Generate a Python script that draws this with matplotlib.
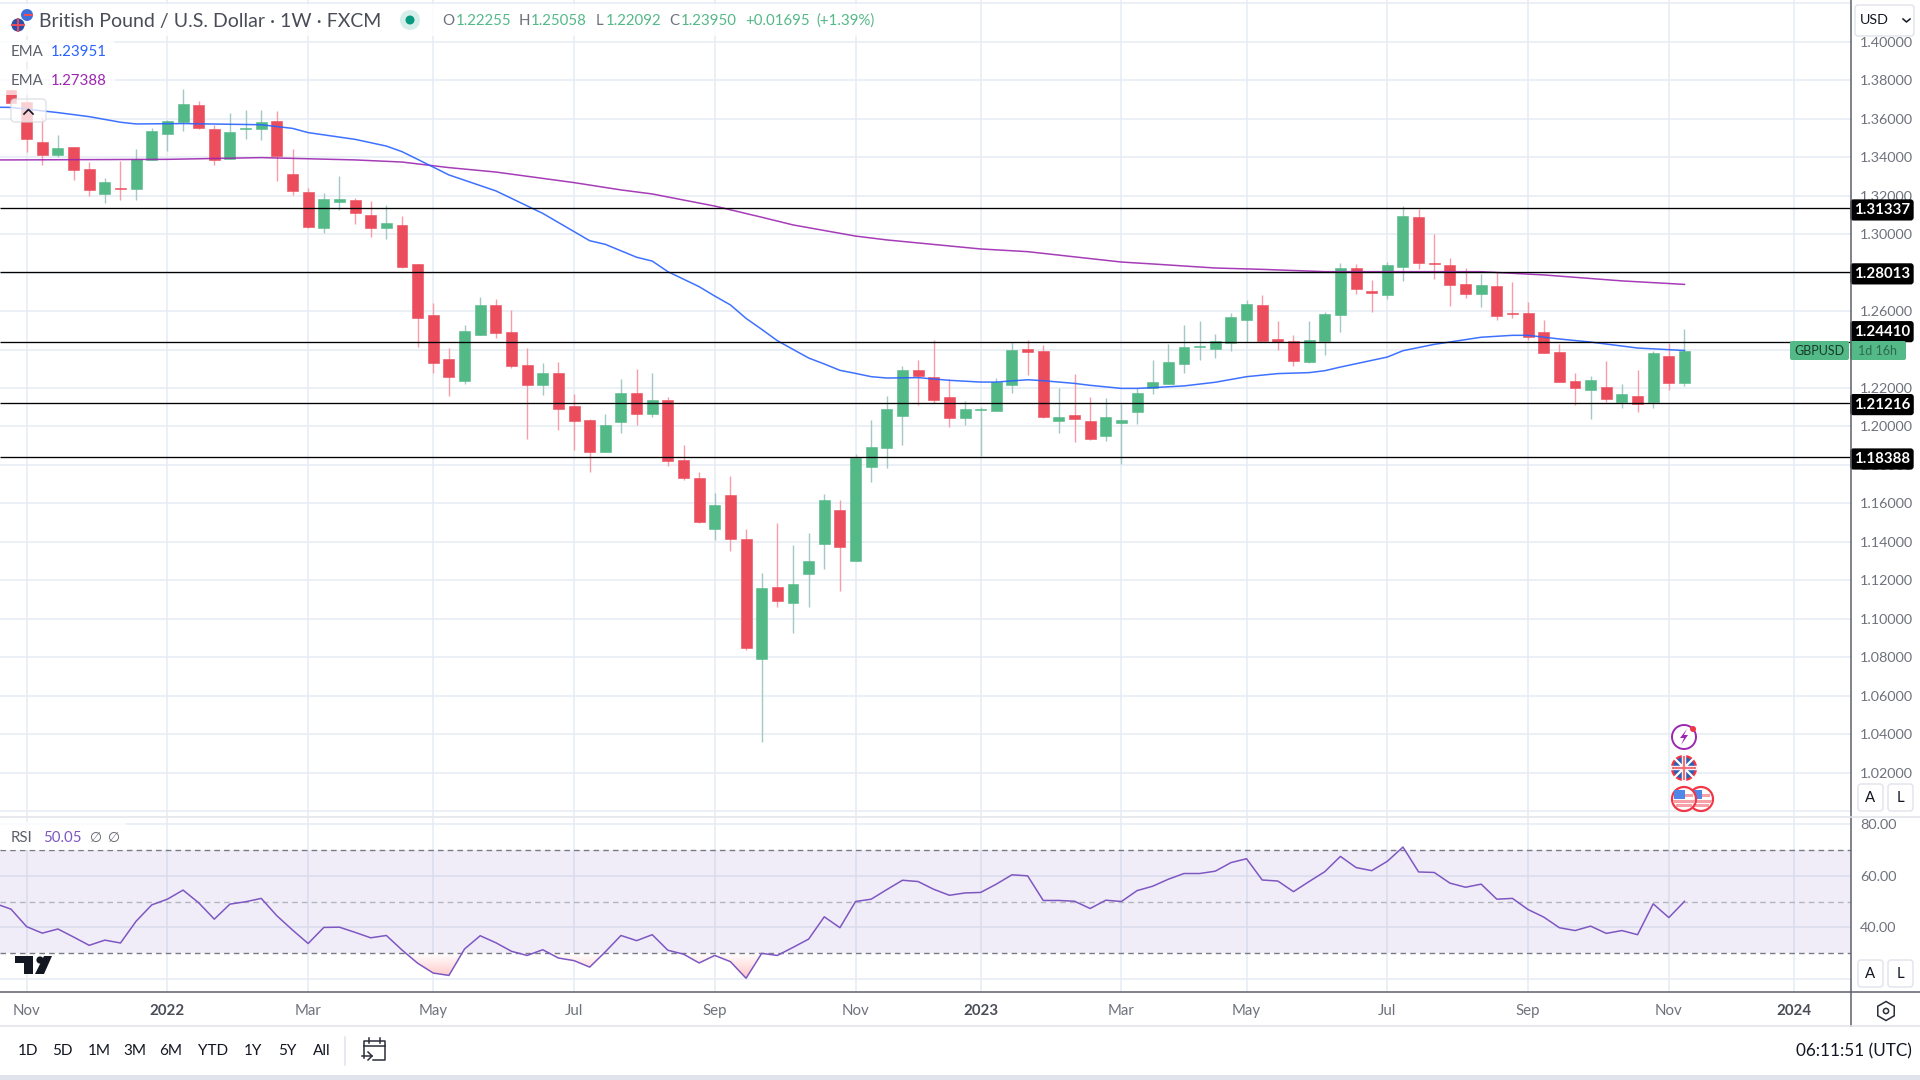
import matplotlib
matplotlib.use("Agg")
import matplotlib.pyplot as plt
import numpy as np
from matplotlib.colors import LinearSegmentedColormap
from matplotlib.patches import Circle, FancyBboxPatch, Polygon, Rectangle, RegularPolygon
from matplotlib.path import Path

plt.rcParams['font.family'] = ['Lato', 'DejaVu Sans']

# weekly candles, one entry per bar
opens = [1.3750, 1.3687, 1.3479, 1.3412, 1.3453, 1.3339, 1.3209, 1.3240, 1.3235, 1.3386,
         1.3521, 1.3583, 1.3672, 1.3547, 1.3391, 1.3549, 1.3547, 1.3588, 1.3313, 1.3219,
         1.3032, 1.3167, 1.3178, 1.3100, 1.3032, 1.3048, 1.2845, 1.2580, 1.2351, 1.2237,
         1.2476, 1.2632, 1.2491, 1.2320, 1.2216, 1.2278, 1.2107, 1.2034, 1.1867, 1.2023,
         1.2174, 1.2065, 1.2138, 1.1826, 1.1732, 1.1467, 1.1644, 1.1415, 1.0791, 1.1166,
         1.1082, 1.1233, 1.1389, 1.1566, 1.1301, 1.1789, 1.1888, 1.2055, 1.2294, 1.2257,
         1.2153, 1.2044, 1.2087, 1.2081, 1.2216, 1.2403, 1.2393, 1.2029, 1.2060, 1.2029,
         1.1951, 1.2018, 1.2075, 1.2200, 1.2221, 1.2325, 1.2415, 1.2403, 1.2434, 1.2554,
         1.2632, 1.2455, 1.2445, 1.2335, 1.2445, 1.2580, 1.2824, 1.2705, 1.2684, 1.2829,
         1.3089, 1.2850, 1.2840, 1.2741, 1.2689, 1.2730, 1.2590, 1.2590, 1.2491, 1.2387,
         1.2236, 1.2190, 1.2205, 1.2127, 1.2159, 1.2127, 1.2366, 1.22255]
highs = [1.3755, 1.3695, 1.3607, 1.3516, 1.3455, 1.3375, 1.3292, 1.3382, 1.3443, 1.3552,
         1.3594, 1.3755, 1.3692, 1.3568, 1.3630, 1.3646, 1.3646, 1.3640, 1.3443, 1.3240,
         1.3214, 1.3302, 1.3188, 1.3172, 1.3152, 1.3094, 1.2845, 1.2642, 1.2408, 1.2528,
         1.2673, 1.2663, 1.2606, 1.2408, 1.2330, 1.2335, 1.2169, 1.2039, 1.2065, 1.2247,
         1.2299, 1.2278, 1.2153, 1.1904, 1.1763, 1.1654, 1.1743, 1.1467, 1.1238, 1.1498,
         1.1384, 1.1446, 1.1649, 1.1618, 1.1857, 1.2034, 1.2159, 1.2315, 1.2346, 1.2450,
         1.2247, 1.2133, 1.2100, 1.2252, 1.2439, 1.2450, 1.2424, 1.2200, 1.2273, 1.2153,
         1.2148, 1.2117, 1.2200, 1.2346, 1.2429, 1.2528, 1.2549, 1.2481, 1.2590, 1.2658,
         1.2684, 1.2549, 1.2476, 1.2549, 1.2595, 1.2850, 1.2845, 1.2762, 1.2855, 1.3146,
         1.3131, 1.3001, 1.2876, 1.2824, 1.2793, 1.2803, 1.2751, 1.2647, 1.2554, 1.2429,
         1.2278, 1.2262, 1.2341, 1.2221, 1.2294, 1.2393, 1.2434, 1.25058]
lows = [1.3684, 1.3429, 1.3361, 1.3403, 1.3282, 1.3198, 1.3162, 1.3178, 1.3178, 1.3384,
        1.3432, 1.3536, 1.3547, 1.3360, 1.3389, 1.3495, 1.3490, 1.3276, 1.3204, 1.3032,
        1.3006, 1.3126, 1.3053, 1.2985, 1.2975, 1.2824, 1.2413, 1.2278, 1.2159, 1.2221,
        1.2476, 1.2460, 1.2304, 1.1935, 1.2164, 1.1982, 1.1878, 1.1763, 1.1867, 1.1966,
        1.2008, 1.2049, 1.1795, 1.1722, 1.1498, 1.1410, 1.1353, 1.0838, 1.0360, 1.1062,
        1.0926, 1.1062, 1.1259, 1.1145, 1.1299, 1.1711, 1.1784, 1.1904, 1.2112, 1.2122,
        1.1999, 1.2008, 1.1847, 1.2079, 1.2174, 1.2268, 1.2044, 1.1966, 1.1919, 1.1930,
        1.1925, 1.1805, 1.2013, 1.2169, 1.2221, 1.2278, 1.2346, 1.2356, 1.2393, 1.2439,
        1.2445, 1.2398, 1.2315, 1.2330, 1.2372, 1.2491, 1.2689, 1.2595, 1.2663, 1.2757,
        1.2819, 1.2767, 1.2626, 1.2668, 1.2621, 1.2554, 1.2564, 1.2450, 1.2380, 1.2229,
        1.2112, 1.2039, 1.2127, 1.2096, 1.2075, 1.2096, 1.2190, 1.22092]
closes = [1.3684, 1.3497, 1.3412, 1.3448, 1.3334, 1.3230, 1.3271, 1.3237, 1.3389, 1.3536,
          1.3588, 1.3677, 1.3552, 1.3386, 1.3531, 1.3552, 1.3583, 1.3406, 1.3224, 1.3037,
          1.3183, 1.3183, 1.3110, 1.3032, 1.3058, 1.2829, 1.2564, 1.2330, 1.2257, 1.2497,
          1.2632, 1.2486, 1.2315, 1.2216, 1.2278, 1.2091, 1.2029, 1.1867, 1.2008, 1.2174,
          1.2065, 1.2138, 1.1821, 1.1732, 1.1503, 1.1592, 1.1415, 1.0848, 1.1160, 1.1093,
          1.1181, 1.1301, 1.1618, 1.1374, 1.1836, 1.1893, 1.2091, 1.2294, 1.2263, 1.2138,
          1.2044, 1.2091, 1.2091, 1.2231, 1.2398, 1.2387, 1.2049, 1.2049, 1.2039, 1.1935,
          1.2049, 1.2034, 1.2174, 1.2231, 1.2335, 1.2413, 1.2418, 1.2445, 1.2569, 1.2637,
          1.2445, 1.2439, 1.2341, 1.2450, 1.2585, 1.2824, 1.2715, 1.2694, 1.2840, 1.3094,
          1.2850, 1.2845, 1.2736, 1.2689, 1.2736, 1.2574, 1.2585, 1.2465, 1.2382, 1.2231,
          1.2200, 1.2242, 1.2143, 1.2169, 1.2117, 1.2382, 1.2226, 1.2395]

# EMA lines, read at the bars where they bend
ema50_bars = [-1, 0, 3, 5, 7, 8, 11, 16, 18, 19, 22, 24, 25, 26, 28, 31, 34, 37, 38, 40, 41, 42, 44, 45,
              46, 47, 48, 49, 50, 51, 52, 53, 54, 55, 56, 58, 60, 62, 63, 65, 66, 68, 69, 71, 72,
              73, 75, 77, 79, 81, 83, 84, 85, 88, 89, 91, 94, 96, 97, 99, 101, 104, 107]
ema50 = [1.3660, 1.3659, 1.3632, 1.3611, 1.3582, 1.3573, 1.3575, 1.3569, 1.3550, 1.3528, 1.3493, 1.3458,
         1.3429, 1.3389, 1.3308, 1.3225, 1.3108, 1.2966, 1.2947, 1.2880, 1.2860, 1.2805, 1.2727, 1.2678,
         1.2632, 1.2562, 1.2505, 1.2446, 1.2401, 1.2356, 1.2325, 1.2292, 1.2276, 1.2259, 1.2252, 1.2254,
         1.2240, 1.2231, 1.2231, 1.2243, 1.2238, 1.2224, 1.2214, 1.2198, 1.2198, 1.2202, 1.2211, 1.2230,
         1.2259, 1.2275, 1.2280, 1.2290, 1.2309, 1.2361, 1.2394, 1.2427, 1.2464, 1.2474, 1.2474, 1.2455,
         1.2439, 1.2408, 1.23951]
ema200_bars = [-1, 0, 10, 16, 22, 25, 28, 31, 36, 39, 41, 45, 48, 50, 54, 56, 62, 65, 71, 73,
               77, 80, 84, 88, 94, 98, 103, 107]
ema200 = [1.3386, 1.3386, 1.3389, 1.3398, 1.3386, 1.3375, 1.3346, 1.3323, 1.3268, 1.3230, 1.3209,
          1.3146, 1.3088, 1.3048, 1.2990, 1.2970, 1.2923, 1.2909, 1.2855, 1.2845, 1.2824, 1.2817,
          1.2805, 1.2805, 1.2805, 1.2788, 1.2757, 1.27388]

# RSI, first entry sits one bar left of the first candle
rsi = [49.2, 47.05, 40.3, 37.8, 39.4, 36.3, 33.1, 35.1, 34.0, 42.4, 48.7, 50.9, 54.4, 49.5, 43.2, 49.0,
       49.9, 51.2, 44.5, 39.0, 33.8, 40.0, 40.1, 38.1, 36.0, 36.9, 31.3, 26.2, 22.4, 21.5, 31.7, 36.8,
       34.1, 30.8, 29.2, 31.4, 28.2, 27.2, 24.7, 30.6, 36.9, 34.9, 37.2, 31.2, 29.7, 26.3, 29.2, 26.8,
       20.4, 30.0, 29.2, 32.3, 35.5, 44.1, 39.9, 50.0, 50.9, 54.6, 58.2, 57.7, 54.7, 52.4, 53.3, 53.5,
       56.7, 60.3, 59.9, 50.4, 50.4, 50.1, 47.3, 50.5, 50.0, 54.2, 55.9, 58.6, 60.8, 60.8, 61.7, 65.0,
       66.5, 58.3, 57.9, 53.8, 57.7, 61.5, 67.4, 63.1, 61.9, 65.5, 71.0, 61.4, 61.2, 57.1, 55.5, 56.7,
       50.9, 51.2, 46.9, 44.0, 39.9, 38.8, 40.5, 37.7, 38.8, 37.2, 49.1, 43.8, 50.05]

levels = [1.31337, 1.28013, 1.24410, 1.21216, 1.18388]
month_bars = [1, 10, 19, 27, 36, 45, 54, 62, 71, 79, 88, 97, 106, 114]
month_labels = ['Nov', '2022', 'Mar', 'May', 'Jul', 'Sep', 'Nov', '2023', 'Mar', 'May', 'Jul', 'Sep', 'Nov', '2024']
price_ticks = [1.00, 1.02, 1.04, 1.06, 1.08, 1.10, 1.12, 1.14, 1.16, 1.18, 1.20, 1.22, 1.24, 1.26,
               1.28, 1.30, 1.32, 1.34, 1.36, 1.38, 1.40, 1.42]
hidden_ticks = (1.00, 1.24, 1.28, 1.42)  # gridline only, the label is covered in the reference
rsi_ticks = [20, 40, 60, 80]
ranges = ['1D', '5D', '1M', '3M', '6M', 'YTD', '1Y', '5Y', 'All']
range_x = [28, 62, 99, 135, 171, 213, 253, 287, 322]

GREEN = '#53b987'
RED = '#eb4d5c'
GRID = '#e4ecf2'
LABEL = '#6f727c'
INK = '#131722'

W, H = 1920, 1080
fig = plt.figure(figsize=(W / 100, H / 100), dpi=100)


def px_axes(x0, y0, x1, y1, **kw):
    return fig.add_axes([x0 / W, 1 - y1 / H, (x1 - x0) / W, (y1 - y0) / H], **kw)


AXIS_X = 1851
XLIM = (-11 / 15.64, (AXIS_X - 11) / 15.64)

# price pane
ax = px_axes(0, 0, AXIS_X, 816.7)
ax.set_axisbelow(True)
ax.set_xlim(*XLIM)
ax.set_ylim(0.99711, 1.42175)
ax.grid(True, color=GRID, lw=1.1)
ax.set_xticks(month_bars)
ax.set_xticklabels([])
ax.set_yticks(price_ticks)
ax.set_yticklabels(['' if p in hidden_ticks else f'{p:.5f}' for p in price_ticks])
ax.yaxis.tick_right()
ax.tick_params(length=0)
ax.tick_params(axis='y', pad=6.5, labelsize=10.4, labelcolor=LABEL)
for s in ax.spines.values():
    s.set_visible(False)

bars = np.arange(len(opens))
o, h, l, c = map(np.array, (opens, highs, lows, closes))
up = c >= o
ax.vlines(bars, l, h, colors=np.where(up, '#a3c8c5', '#f79ca8'), lw=1.0, zorder=2)
ax.bar(bars, np.abs(c - o), bottom=np.minimum(o, c), width=0.7,
       color=np.where(up, GREEN, RED), lw=0.4, edgecolor=np.where(up, GREEN, RED), zorder=3)
ax.plot(ema200_bars, ema200, color='#9c27b0', lw=1.1, alpha=0.9, zorder=4)
ax.plot(ema50_bars, ema50, color='#2962ff', lw=1.1, alpha=0.9, zorder=4)
ax.hlines(levels, XLIM[0], XLIM[1], color='black', lw=0.95, zorder=5)

# level tags, the 1.24410 one is pushed up by the last price tag
for lev in levels:
    shift = 10 if lev == 1.24410 else -1.5
    ax.annotate(f'{lev:.5f}', xy=(1, lev), xycoords=ax.get_yaxis_transform(),
                xytext=(31, shift), textcoords='offset pixels', ha='center', va='center',
                color='white', fontsize=10.8, fontweight='bold', annotation_clip=False, zorder=10,
                bbox=dict(boxstyle='round,pad=0.24,rounding_size=0.2', fc='black', ec='none'))

# rsi pane
rx = px_axes(0, 817.5, AXIS_X, 992)
rx.set_axisbelow(True)
rx.set_facecolor('white')
rsi_bars = np.arange(-1, len(rsi) - 1)
rsi_arr = np.array(rsi)
rx.axhspan(30, 70, color='#7e57c2', alpha=0.1, lw=0, zorder=1)
rx.grid(True, color=GRID, lw=1.1)
low_fill = rx.fill_between(rsi_bars, rsi_arr, 30, where=rsi_arr < 30, interpolate=True, alpha=0)
pink = LinearSegmentedColormap.from_list('pink', ['#ffc4c4', '#ffffff'])
img = rx.imshow(np.linspace(0, 1, 64).reshape(-1, 1), cmap=pink, aspect='auto', origin='lower',
                extent=(XLIM[0], XLIM[1], 20, 30), zorder=1.5)
img.set_clip_path(Path.make_compound_path(*low_fill.get_paths()), transform=rx.transData)
rx.axhline(70, color='#787b86', lw=1, dashes=(4, 3), zorder=2)
rx.axhline(50, color='#b2b5be', lw=1, dashes=(4, 3), zorder=2)
rx.axhline(30, color='#787b86', lw=1, dashes=(4, 3), zorder=2)
rx.plot(rsi_bars, rsi_arr, color='#7e57c2', lw=1.1, zorder=3)
rx.set_xlim(*XLIM)
rx.set_ylim(15.1, 82.4)
rx.set_xticks(month_bars)
rx.set_xticklabels(month_labels)
rx.set_yticks(rsi_ticks)
rx.set_yticklabels(['', '40.00', '60.00', '80.00'])
rx.yaxis.tick_right()
rx.tick_params(length=0)
rx.tick_params(axis='y', pad=6.5, labelsize=10.4, labelcolor=LABEL)
rx.tick_params(axis='x', pad=8.3, labelsize=10.8, labelcolor=LABEL)
for t in rx.get_xticklabels():
    if t.get_text().isdigit():
        t.set_fontweight('bold')
        t.set_color('#4a4d57')
for s in rx.spines.values():
    s.set_visible(False)

# chart furniture in pixel coordinates
ui = fig.add_axes([0, 0, 1, 1], zorder=5)
ui.set_xlim(0, W)
ui.set_ylim(H, 0)
ui.axis('off')
ui.patch.set_alpha(0)


def box(x0, y0, x1, y1, fc='white', ec='none', alpha=None, rad=3, lw=1):
    ui.add_patch(FancyBboxPatch((x0, y0), x1 - x0, y1 - y0, boxstyle=f'round,pad=0,rounding_size={rad}',
                                fc=fc, ec=ec, alpha=alpha, lw=lw))


def txt(x, y, s, color=INK, size=10.8, ha='left', **kw):
    ui.text(x, y, s, color=color, fontsize=size, ha=ha, va='center', **kw)


ui.plot([AXIS_X, AXIS_X], [0, 1026], color='#5d606b', lw=1.1)
ui.plot([0, W], [992, 992], color='#5d606b', lw=1.1)
ui.plot([0, W], [817, 817], color='#e0e3eb', lw=1.1)
ui.plot([0, W], [1026, 1026], color='#e0e3eb', lw=1.1)
ui.add_patch(Rectangle((0, 1075), W, 5, fc='#e0e3eb', ec='none'))

# legend header
box(0, 4, 890, 36, alpha=0.85)
box(0, 40, 115, 62, alpha=0.85)
box(0, 69, 115, 95, alpha=0.7)
txt(39, 21.5, 'British Pound / U.S. Dollar · 1W · FXCM', color='#4a4d57', size=14)
ui.add_patch(Circle((410, 20), 10, fc='#d5eeea', ec='none'))
ui.add_patch(Circle((410, 20), 4.5, fc='#089981', ec='none'))
for x, s, col in [(442, 'O', LABEL), (455.5, '1.22255', GREEN), (519, 'H', LABEL), (531, '1.25058', GREEN),
                  (595.5, 'L', LABEL), (606, '1.22092', GREEN), (669, 'C', LABEL), (681, '1.23950', GREEN),
                  (745, '+0.01695', GREEN), (816, '(+1.39%)', GREEN)]:
    txt(x, 21, s, color=col, size=10.8)
txt(11, 51.5, 'EMA', color='#5d606b')
txt(51, 51.5, '1.23951', color='#2962ff')
txt(11, 81, 'EMA', color='#5d606b')
txt(51, 81, '1.27388', color='#9c27b0')
box(11, 99, 46, 122, alpha=0.75, ec='#d6d8e0', rad=4)
ui.plot([24, 28.5, 33], [114, 109.5, 114], color=INK, lw=1.2)

# header flags
ui.add_patch(Circle((27, 15), 6, fc='#3f6fd8', ec='none'))
ui.add_patch(Rectangle((24, 14), 9, 2, fc='#eb4d5c', ec='none'))
ui.add_patch(Circle((18, 25), 7, fc='#2a4fa8', ec='white', lw=0.6))
ui.plot([12, 24], [25, 25], color='#eb4d5c', lw=1.4)
ui.plot([18, 18], [19, 31], color='#eb4d5c', lw=1.4)

# price axis buttons and tags
box(1855, 5, 1914, 36, ec='#e0e3eb')
txt(1860, 20, 'USD', size=10.3)
ui.plot([1903, 1906.5, 1910], [19, 22, 19], color=INK, lw=1.1)
box(1790, 341, 1849, 360, fc=GREEN, rad=2)
box(1850, 341, 1906, 360, fc=GREEN, rad=2)
txt(1819.5, 351, 'GBPUSD', color='#173a2b', ha='center', size=9)
txt(1878, 351, '1d 16h', color='#2f6a50', ha='center', size=9)
for y0 in (784, 960):
    box(1858, y0, 1883, y0 + 27, ec='#e0e3eb')
    box(1888, y0, 1913, y0 + 27, ec='#e0e3eb')
    txt(1870.5, y0 + 13.5, 'A', ha='center', size=10.8)
    txt(1900.5, y0 + 13.5, 'L', ha='center', size=10.8)

# rsi legend
box(0, 822, 126, 850, alpha=0.8)
txt(11, 838, 'RSI', color='#5d606b')
txt(43, 838, '50.05', color='#7e57c2')
txt(90, 838, '∅', color='#5d606b', size=10)
txt(108, 838, '∅', color='#5d606b', size=10)

# tradingview mark
ui.add_patch(Polygon([(15, 956), (33, 956), (33, 974), (24, 974), (24, 963), (15, 963)], fc=INK, ec='none'))
ui.add_patch(Circle((40, 960), 3.6, fc=INK, ec='none'))
ui.add_patch(Polygon([(44, 956), (52, 956), (44, 974), (35, 974)], fc=INK, ec='none'))

# event markers over the last bar
ui.add_patch(Circle((1684, 737), 12, fc='white', ec='#9c27b0', lw=1.4))
ui.add_patch(Polygon([(1687, 729), (1680, 738), (1684, 738), (1681, 745), (1688, 735), (1684, 735)],
                     fc='#9c27b0', ec='none'))
ui.add_patch(Circle((1693, 729), 3, fc='#f23645', ec='none'))
uk = Circle((1684, 768), 12, fc='#2f5fb4', ec='#f23645', lw=1.6)
ui.add_patch(uk)
for seg in ([[1675, 1693], [759, 777]], [[1675, 1693], [777, 759]]):
    ui.plot(*seg, color='white', lw=1.6)
ui.plot([1673, 1695], [768, 768], color='white', lw=3.2)
ui.plot([1684, 1684], [757, 779], color='white', lw=3.2)
ui.plot([1673, 1695], [768, 768], color='#f2707c', lw=1.6)
ui.plot([1684, 1684], [757, 779], color='#f2707c', lw=1.6)
for cx in (1701, 1684):
    ui.add_patch(Circle((cx, 799), 12, fc='white', ec='#f23645', lw=1.6, zorder=3))
    ui.add_patch(Rectangle((cx - 9, 794), 18, 3, fc='#f7a0a8', ec='none', zorder=3))
    ui.add_patch(Rectangle((cx - 11, 800), 22, 3, fc='#f7a0a8', ec='none', zorder=3))
    ui.add_patch(Rectangle((cx - 8, 804), 16, 3, fc='#f7a0a8', ec='none', zorder=3))
    ui.add_patch(Rectangle((cx - 10, 790), 11, 9, fc='#4f86e8', ec='none', zorder=3))

# bottom toolbar
for x, s in zip(range_x, ranges):
    txt(x, 1051, s, ha='center', size=11)
ui.plot([345, 345], [1037, 1065], color='#e0e3eb', lw=1.1)
ui.plot([364, 364, 385, 385, 373], [1058, 1041, 1041, 1060, 1060], color='#2a2e39', lw=1.1)
ui.plot([364, 385], [1046, 1046], color='#2a2e39', lw=1.1)
ui.plot([369, 369], [1038, 1043], color='#2a2e39', lw=1.1)
ui.plot([380, 380], [1038, 1043], color='#2a2e39', lw=1.1)
ui.plot([362, 372], [1056, 1056], color='#2a2e39', lw=1.1)
ui.plot([368, 372, 368], [1052, 1056, 1060], color='#2a2e39', lw=1.1)
txt(1912, 1051, '06:11:51 (UTC)', ha='right', size=12.3)
ui.add_patch(RegularPolygon((1886, 1011), 6, radius=9.5, fc='none', ec='#2a2e39', lw=1.1))
ui.add_patch(Circle((1886, 1011), 2.6, fc='none', ec='#2a2e39', lw=1.1))

fig.savefig('out.png', dpi=100)
